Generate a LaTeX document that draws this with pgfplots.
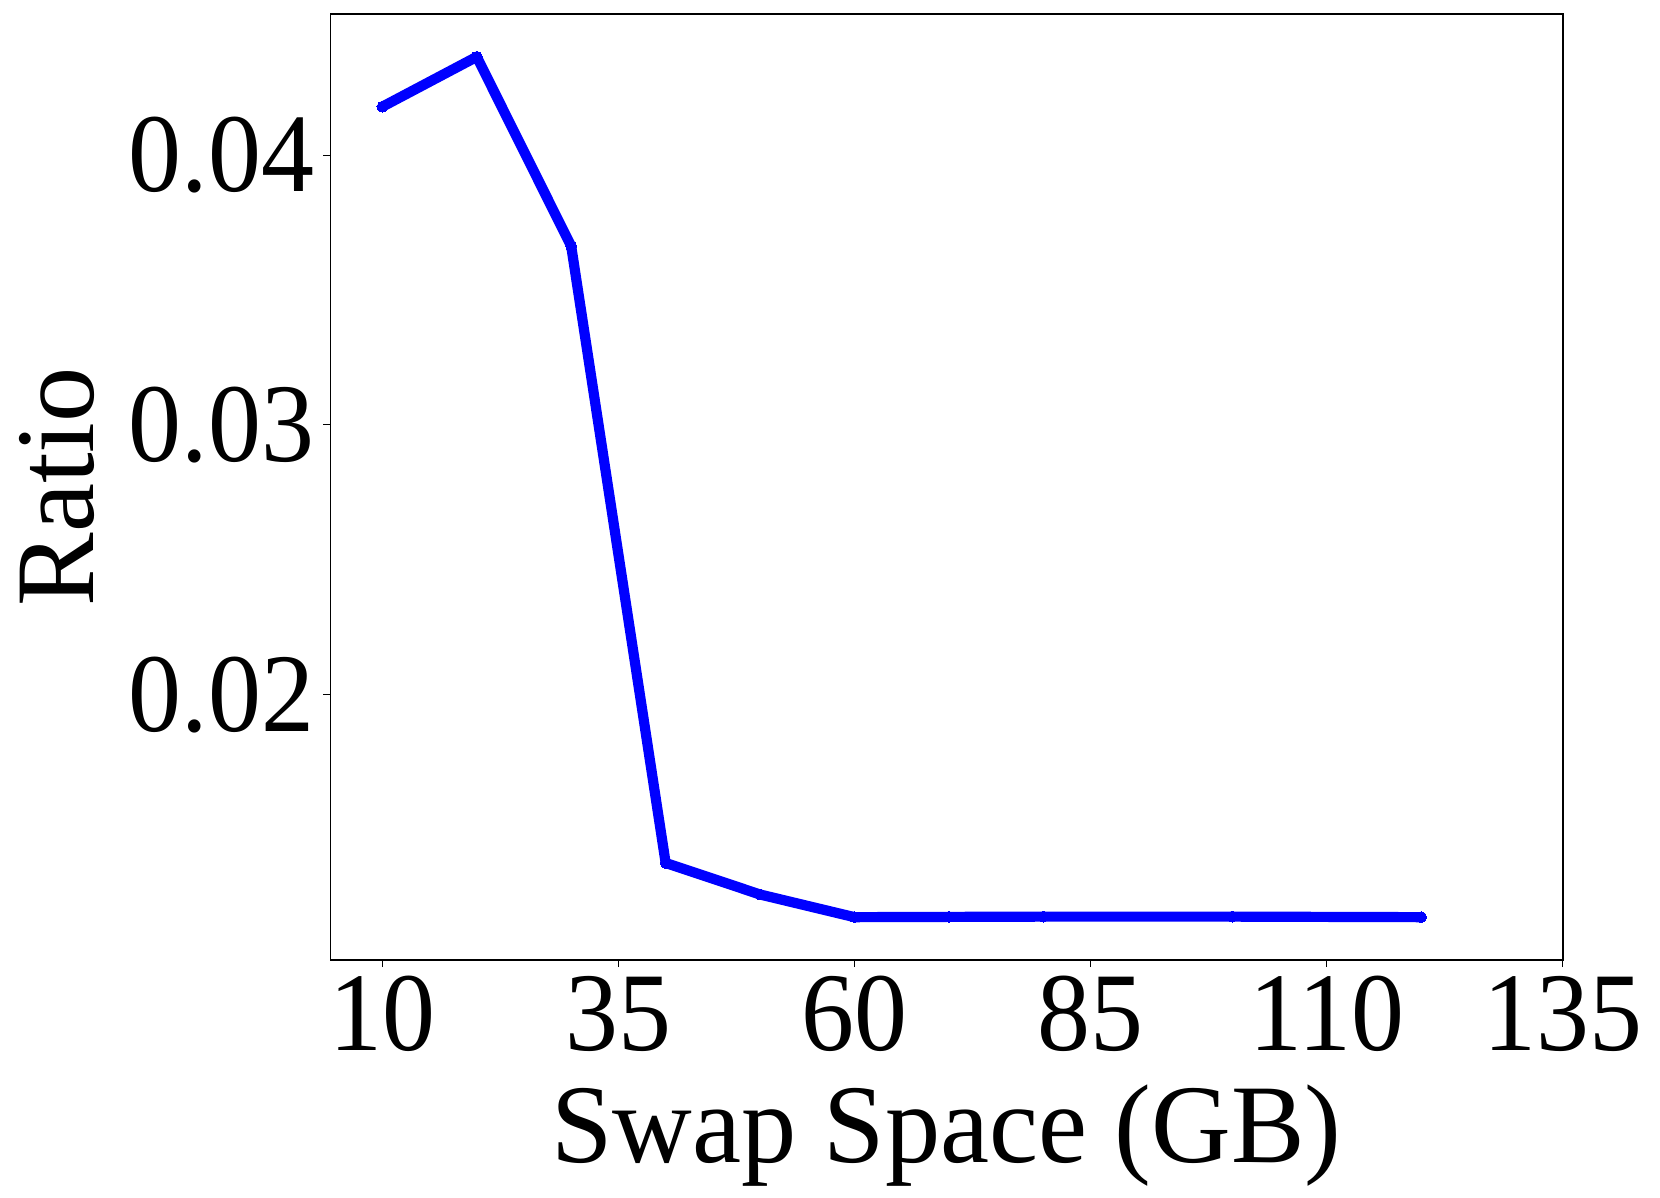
\documentclass[border=0pt]{standalone}
\usepackage{fontspec}
\setmainfont{Liberation Serif}
\newfontfamily\tickfont[FakeStretch=0.945]{Liberation Serif}
\newfontfamily\labelfont[FakeStretch=0.985]{Liberation Serif}
\usepackage{pgfplots}
\pgfplotsset{compat=1.18}
\begin{document}
\begin{tikzpicture}
\begin{axis}[
  scale only axis,
  width=616.2pt, height=473.2pt,
  at={(0,0)}, anchor=south west,
  xmin=4.5, xmax=135,
  ymin=0.010155, ymax=0.045235,
  xtick={10,35,60,85,110,135},
  ytick={0.02,0.03,0.04},
  yticklabels={0.02,0.03,0.04},
  xticklabels={10,35,60,85,110,135},
  tick align=outside,
  xtick pos=bottom, ytick pos=left,
  major tick length=3.5pt,
  every tick/.style={black, line width=0.5pt},
  axis line style={line width=0.75pt},
  /pgf/number format/assume math mode=true,
  tick label style={font=\tickfont\fontsize{56}{60}\selectfont, inner sep=0pt},
  xticklabel style={anchor=north, yshift=-4.4pt},
  yticklabel style={anchor=east, xshift=-4.5pt},
  xlabel={Swap Space (GB)},
  ylabel={Ratio},
  label style={font=\labelfont\fontsize{56}{60}\selectfont, inner sep=0pt},
  xlabel style={at={(axis description cs:0.5,0)}, anchor=base, yshift=-101pt},
  ylabel style={at={(axis description cs:0,0.5)}, anchor=base, yshift=118.5pt},
  clip=false,
]
\addplot[color={rgb,255:red,0;green,0;blue,255}, line width=5.1pt, line join=round,
  mark=*, mark size=2.7pt, mark options={solid, fill={rgb,255:red,0;green,0;blue,255}, line width=0pt}]
  coordinates {
  (10,0.04179) (20,0.04364) (30,0.03662) (40,0.01376) (50,0.01259)
  (60,0.01175) (70,0.01176) (80,0.01177) (100,0.01177) (120,0.01175)
  };
\end{axis}
\pgfresetboundingbox
\path[use as bounding box] (-165.2pt,-118.85pt) rectangle (664.8pt,480.1pt);
\end{tikzpicture}
\end{document}
